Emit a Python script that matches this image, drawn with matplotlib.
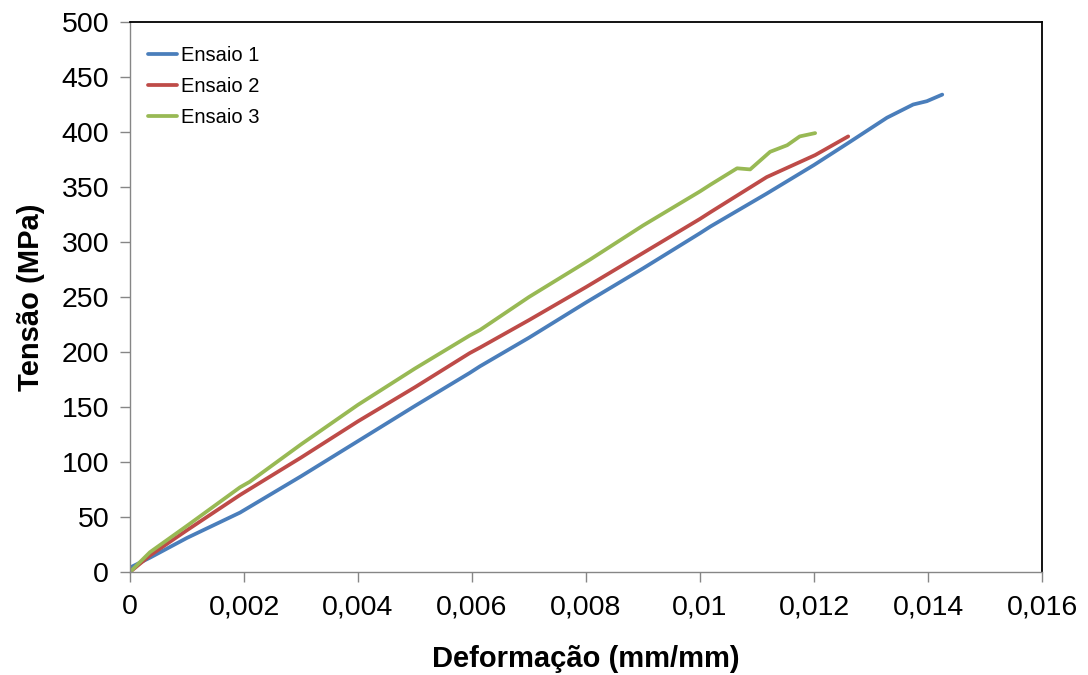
import matplotlib
matplotlib.use("Agg")
import matplotlib.pyplot as plt
from matplotlib.ticker import FuncFormatter, MultipleLocator

# Stress-strain readings for the three tensile tests (strain in mm/mm, stress in MPa)
strain_1 = [0.0, 0.00035, 0.0010, 0.00193, 0.0030, 0.0040, 0.0050, 0.00596, 0.00614,
            0.0070, 0.0080, 0.0090, 0.0100, 0.01018, 0.01117, 0.0120, 0.0126, 0.01328,
            0.01374, 0.01398, 0.01425]
stress_1 = [4, 13, 31, 54, 87, 119, 151, 181, 187,
            213, 245, 276, 308, 314, 344, 370, 390, 413,
            425, 428, 434]

strain_2 = [0.0, 0.00035, 0.0010, 0.00193, 0.00237, 0.0030, 0.0040, 0.0050, 0.00596,
            0.00614, 0.0070, 0.0080, 0.0090, 0.0100, 0.01018, 0.01117, 0.01202, 0.0126]
stress_2 = [0, 15, 38, 70, 84, 104, 137, 168, 199,
            204, 229, 259, 290, 321, 327, 359, 379, 396]

strain_3 = [0.0, 0.00035, 0.0010, 0.00193, 0.0021, 0.0030, 0.0040, 0.0050, 0.00596,
            0.00614, 0.0070, 0.00807, 0.0090, 0.0100, 0.01018, 0.01065, 0.01088, 0.01123,
            0.01153, 0.01175, 0.01202]
stress_3 = [0, 18, 42, 77, 82, 116, 152, 185, 215,
            220, 250, 284, 315, 346, 352, 367, 366, 382,
            388, 396, 399]

series_labels = ["Ensaio 1", "Ensaio 2", "Ensaio 3"]
series_colors = ["#4A7EBB", "#BE4B48", "#98B954"]

plt.rcParams["font.family"] = ["Liberation Sans", "DejaVu Sans"]

fig = plt.figure(figsize=(10.88, 6.75), dpi=100)
ax = fig.add_axes([130 / 1088, 1 - 572 / 675, (1042 - 130) / 1088, (572 - 22) / 675])

for xs, ys, lab, col in zip([strain_1, strain_2, strain_3],
                            [stress_1, stress_2, stress_3],
                            series_labels, series_colors):
    ax.plot(xs, ys, color=col, lw=2.7, label=lab, solid_capstyle="round")

ax.set_xlim(0, 0.016)
ax.set_ylim(0, 500)
ax.xaxis.set_major_locator(MultipleLocator(0.002))
ax.yaxis.set_major_locator(MultipleLocator(50))


def comma_fmt(v, pos):
    if abs(v) < 1e-12:
        return "0"
    return ("%g" % round(v, 6)).replace(".", ",")


ax.xaxis.set_major_formatter(FuncFormatter(comma_fmt))

grey = "#868686"
for side in ("left", "bottom"):
    ax.spines[side].set_color(grey)
    ax.spines[side].set_linewidth(1.0)
for side in ("top", "right"):
    ax.spines[side].set_color("black")
    ax.spines[side].set_linewidth(1.3)

ax.tick_params(axis="both", direction="out", length=7, width=1.0, color=grey,
               labelsize=20.5, labelcolor="black")
ax.tick_params(axis="x", pad=9)
ax.tick_params(axis="y", pad=8)

ax.set_xlabel("Deformação (mm/mm)", fontsize=21, fontweight="bold", labelpad=18)
ax.set_ylabel("Tensão (MPa)", fontsize=21, fontweight="bold", labelpad=12)

leg = ax.legend(loc="upper left", bbox_to_anchor=(0.0, 0.99), frameon=False,
                fontsize=14.5, handlelength=1.45, handletextpad=0.2, labelspacing=0.6)

fig.savefig("out.png", dpi=100, facecolor="white")
